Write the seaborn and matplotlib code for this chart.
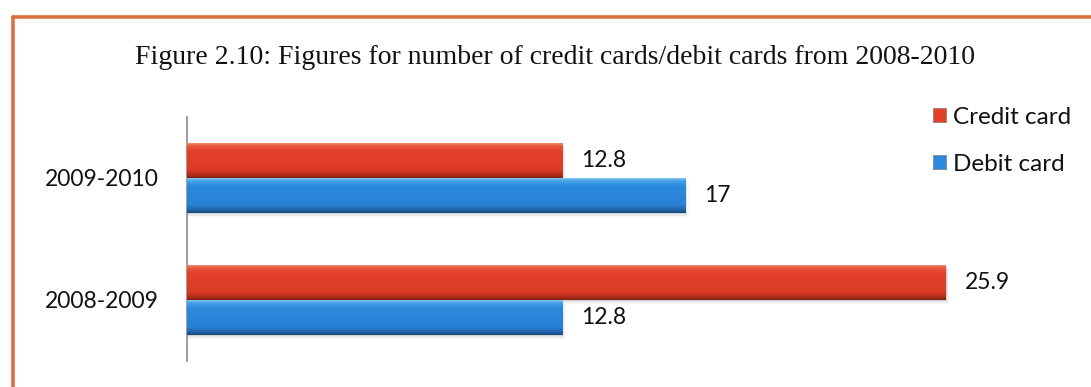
import matplotlib
matplotlib.use("Agg")
import matplotlib.pyplot as plt
import matplotlib.colors as mcolors
from matplotlib.lines import Line2D
from matplotlib.patches import Patch
import numpy as np
import pandas as pd
import seaborn as sns

# Data
periods = ["2009-2010", "2008-2009"]
series_names = ["Credit card", "Debit card"]
credit_cards = [12.8, 25.9]
debit_cards = [17, 12.8]
title_text = "Figure 2.10: Figures for number of credit cards/debit cards from 2008-2010"

sns.set_theme(style="white")
label_font = ["Lato", "DejaVu Sans"]
title_font = ["Liberation Serif", "DejaVu Serif"]

df = pd.DataFrame({
    "Period": periods * 2,
    "Card": [series_names[0]] * len(periods) + [series_names[1]] * len(periods),
    "Count": credit_cards + debit_cards,
})

base_colors = {"Credit card": "#e3402a", "Debit card": "#2b88dc"}
# (position, colour) stops for the glossy top-to-bottom shading
grad_stops = {
    "Credit card": [(0.0, "#f4a080"), (0.10, "#ea5a3e"), (0.25, "#e3402a"),
                    (0.78, "#da3a25"), (0.92, "#b02c1b"), (1.0, "#7e2014")],
    "Debit card": [(0.0, "#9dd3f6"), (0.10, "#48a2e8"), (0.25, "#2b8ade"),
                   (0.78, "#2881d4"), (0.92, "#1f62a8"), (1.0, "#17467a")],
}

fig = plt.figure(figsize=(10.91, 3.87), dpi=100)
fig.patch.set_facecolor("white")
ax = fig.add_axes([187 / 1091, 1 - 361 / 387, 879 / 1091, 244 / 387])

sns.barplot(data=df, y="Period", x="Count", hue="Card", order=periods,
            hue_order=series_names, orient="h", width=0.575,
            palette=base_colors, ax=ax, legend=False, saturation=1)

# Glossy vertical gradient on each bar, clipped to the bar shape
for container, name in zip(ax.containers, series_names):
    cmap = mcolors.LinearSegmentedColormap.from_list(name, grad_stops[name])
    grad = np.linspace(0, 1, 128).reshape(-1, 1)
    for bar in container:
        x0, y0 = bar.get_x(), bar.get_y()
        w, h = bar.get_width(), bar.get_height()
        # soft drop shadow
        for k, a in enumerate([0.10, 0.06, 0.03]):
            ax.add_patch(plt.Rectangle((x0, y0 + h * (0.04 + 0.04 * k)), w + 0.04 * (k + 1), h,
                                       facecolor="#000000", alpha=a,
                                       edgecolor="none", zorder=1))
        bar.set_zorder(2)
        bar.set_edgecolor("none")
        im = ax.imshow(grad, extent=(x0, x0 + w, y0 + h, y0), cmap=cmap,
                       aspect="auto", zorder=3, interpolation="bilinear")
        im.set_clip_path(bar)

for container in ax.containers:
    ax.bar_label(container, fmt="%g", padding=14, fontsize=16.5,
                 family=label_font, color="#111111")

ax.set_xlim(0, 30)
ax.set_ylim(1.5, -0.5)
ax.set_xlabel("")
ax.set_ylabel("")
ax.set_xticks([])
ax.tick_params(axis="y", length=0, pad=20, labelsize=16.5)
for lbl in ax.get_yticklabels():
    lbl.set_family(label_font)
    lbl.set_color("#111111")
for side in ["top", "right", "bottom"]:
    ax.spines[side].set_visible(False)
ax.spines["left"].set_color("#8c8c8c")
ax.spines["left"].set_linewidth(1.2)
ax.set_facecolor("none")

fig.text(555 / 1091, 1 - 57 / 387, title_text, ha="center", va="center",
         fontsize=20, family=title_font, color="#111111")

handles = [Patch(facecolor=base_colors[n], edgecolor="#7a7a7a", linewidth=0.5)
           for n in series_names]
leg = fig.legend(handles, series_names, loc="upper right",
                 bbox_to_anchor=(1088 / 1091, 1 - 90 / 387), frameon=False,
                 prop={"family": label_font, "size": 17.5}, handlelength=0.5,
                 handleheight=0.5, handletextpad=0.3, labelspacing=1.05,
                 borderpad=0.2)
for t in leg.get_texts():
    t.set_color("#111111")

# Orange frame along the top and left edges
frame_color = "#d9703f"
fig.add_artist(Line2D([13 / 1091, 1.0], [1 - 17 / 387, 1 - 17 / 387],
                      transform=fig.transFigure, color=frame_color, lw=2.6))
fig.add_artist(Line2D([13 / 1091, 13 / 1091], [1 - 17 / 387, 0.0],
                      transform=fig.transFigure, color=frame_color, lw=2.6))

fig.savefig("out.png", dpi=100, facecolor="white")
